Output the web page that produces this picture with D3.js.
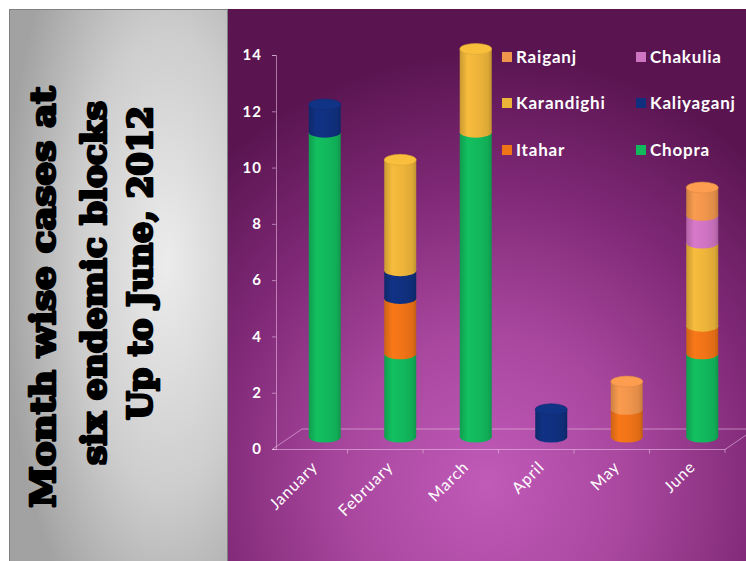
<!DOCTYPE html>
<html>
<head>
<meta charset="utf-8">
<script src="https://cdn.jsdelivr.net/npm/d3@7"></script>
<style>
  html, body { margin: 0; padding: 0; background: #ffffff; }
  svg { display: block; }
</style>
</head>
<body>
<svg id="chart" width="746" height="561"></svg>
<script>
// ---- data -------------------------------------------------------------
const months = ["January", "February", "March", "April", "May", "June"];

// stacking order, bottom to top
const blocks = ["Chopra", "Itahar", "Kaliyaganj", "Karandighi", "Chakulia", "Raiganj"];

const chopra     = [11, 3, 11, 0, 0, 3];
const itahar     = [0, 2, 0, 0, 1, 1];
const kaliyaganj = [1, 1, 0, 1, 0, 0];
const karandighi = [0, 4, 3, 0, 0, 3];
const chakulia   = [0, 0, 0, 0, 0, 1];
const raiganj    = [0, 0, 0, 0, 1, 1];

const yTicks = [0, 2, 4, 6, 8, 10, 12, 14];

// legend read row by row, two columns
const legendOrder = ["Raiganj", "Chakulia", "Karandighi", "Kaliyaganj", "Itahar", "Chopra"];

const titleLines = ["Month wise cases at", "six endemic blocks", "Up to June, 2012"];

// ---- build table for d3.stack ------------------------------------------
const seriesValues = {
  Chopra: chopra, Itahar: itahar, Kaliyaganj: kaliyaganj,
  Karandighi: karandighi, Chakulia: chakulia, Raiganj: raiganj
};
const table = months.map((m, i) => {
  const row = { month: m };
  blocks.forEach(b => { row[b] = seriesValues[b][i]; });
  return row;
});

const colors = {
  Chopra: "#12b85c",
  Itahar: "#ef7317",
  Kaliyaganj: "#10307f",
  Karandighi: "#edb43a",
  Chakulia: "#cf74c2",
  Raiganj: "#f0954c"
};

const svg = d3.select("#chart");
const defs = svg.append("defs");

// ---- panels -----------------------------------------------------------
const grayGrad = defs.append("radialGradient")
  .attr("id", "grayGrad")
  .attr("cx", 0.72).attr("cy", 0.45).attr("r", 0.75);
grayGrad.append("stop").attr("offset", "0%").attr("stop-color", "#ececec");
grayGrad.append("stop").attr("offset", "55%").attr("stop-color", "#cdcdcd");
grayGrad.append("stop").attr("offset", "100%").attr("stop-color", "#a2a2a2");

const purpleGrad = defs.append("radialGradient")
  .attr("id", "purpleGrad")
  .attr("cx", 0.5).attr("cy", 0.86).attr("r", 0.78);
purpleGrad.append("stop").attr("offset", "0%").attr("stop-color", "#c05bb8");
purpleGrad.append("stop").attr("offset", "35%").attr("stop-color", "#a9479f");
purpleGrad.append("stop").attr("offset", "70%").attr("stop-color", "#7e2875");
purpleGrad.append("stop").attr("offset", "100%").attr("stop-color", "#5a1551");

svg.append("rect")
  .attr("x", 9.5).attr("y", 9.5).attr("width", 218).attr("height", 560)
  .attr("fill", "url(#grayGrad)")
  .attr("stroke", "#808080").attr("stroke-width", 1);

svg.append("rect")
  .attr("x", 228).attr("y", 9).attr("width", 518).attr("height", 552)
  .attr("fill", "url(#purpleGrad)");

// ---- title (rotated) ----------------------------------------------------
const titlePos = [
  { x: 55, y: 297, len: 421 },
  { x: 106, y: 283, len: 364 },
  { x: 152, y: 263, len: 314 }
];
svg.append("g").selectAll("text")
  .data(titleLines)
  .join("text")
  .attr("transform", (d, i) => `translate(${titlePos[i].x},${titlePos[i].y}) rotate(-90)`)
  .attr("text-anchor", "middle")
  .attr("font-family", "'DejaVu Serif', serif")
  .attr("font-weight", "bold")
  .attr("font-size", 33)
  .attr("fill", "#000")
  .attr("stroke", "#000").attr("stroke-width", 2.6)
  .attr("stroke-linejoin", "round")
  .attr("textLength", (d, i) => titlePos[i].len)
  .attr("lengthAdjust", "spacingAndGlyphs")
  .text(d => d);

// ---- scales -------------------------------------------------------------
const floorLeft = 272, floorRight = 725, floorFront = 449;
const depthX = 30, depthY = -20;       // back edge of the floor
const midX = 15;                        // cylinders stand mid-depth

const x = d3.scaleBand().domain(months).range([floorLeft, floorRight]);
const yAxisScale = d3.scaleLinear().domain([0, 14]).range([floorFront, 55]);
const yBar = d3.scaleLinear().domain([0, 14]).range([437, 49]);

const stack = d3.stack().keys(blocks);
const layers = stack(table);

// ---- floor --------------------------------------------------------------
const floorStroke = "rgba(240,200,235,0.55)";
const floor = svg.append("g").attr("fill", "none").attr("stroke", floorStroke).attr("stroke-width", 1);
floor.append("path")
  .attr("d", `M${floorLeft},${floorFront + 0.5} L${floorRight},${floorFront + 0.5} L${floorRight + depthX},${floorFront + depthY} ` +
             `L${floorLeft + depthX},${floorFront + depthY} Z`);
// small ticks along the front edge at category boundaries
floor.selectAll("line.cat")
  .data(months.slice(1))
  .join("line")
  .attr("class", "cat")
  .attr("x1", d => x(d)).attr("x2", d => x(d))
  .attr("y1", floorFront + 0.5).attr("y2", floorFront + 4.5);
floor.append("line")
  .attr("x1", floorRight).attr("x2", floorRight)
  .attr("y1", floorFront).attr("y2", floorFront + 4);

// ---- y axis ---------------------------------------------------------------
const yAxis = svg.append("g")
  .attr("transform", `translate(${floorLeft + 4},0)`)
  .call(d3.axisLeft(yAxisScale).tickValues(yTicks).tickSize(4).tickPadding(10));
yAxis.select(".domain").attr("stroke", floorStroke);
yAxis.selectAll(".tick line").attr("stroke", floorStroke);
yAxis.selectAll(".tick text")
  .attr("fill", "#ffffff")
  .attr("font-family", "Lato, 'Open Sans', sans-serif")
  .attr("font-weight", "bold")
  .attr("font-size", 15)
  .attr("letter-spacing", 1);

// ---- cylinder shading ---------------------------------------------------
blocks.forEach(b => {
  const base = d3.color(colors[b]);
  const g = defs.append("linearGradient")
    .attr("id", "cyl-" + b).attr("x1", 0).attr("x2", 1).attr("y1", 0).attr("y2", 0);
  g.append("stop").attr("offset", "0%").attr("stop-color", base.darker(0.45));
  g.append("stop").attr("offset", "25%").attr("stop-color", base.brighter(0.12));
  g.append("stop").attr("offset", "60%").attr("stop-color", base);
  g.append("stop").attr("offset", "88%").attr("stop-color", base.darker(0.2));
  g.append("stop").attr("offset", "100%").attr("stop-color", base.darker(0.6));
});

const rx = 16, ry = 5.5;
const bars = svg.append("g").attr("class", "bars");

months.forEach((m, i) => {
  const cx = x(m) + x.bandwidth() / 2 + midX;
  const g = bars.append("g");
  let topKey = null, topVal = 0;
  layers.forEach(layer => {
    const [y0, y1] = layer[i];
    if (y1 - y0 <= 0) return;
    const key = layer.key;
    g.append("rect")
      .attr("x", cx - rx).attr("width", 2 * rx)
      .attr("y", yBar(y1)).attr("height", yBar(y0) - yBar(y1))
      .attr("fill", `url(#cyl-${key})`);
    g.append("ellipse")
      .attr("cx", cx).attr("cy", yBar(y0))
      .attr("rx", rx).attr("ry", ry)
      .attr("fill", `url(#cyl-${key})`);
    topKey = key; topVal = y1;
  });
  if (topKey) {
    g.append("ellipse")
      .attr("cx", cx).attr("cy", yBar(topVal))
      .attr("rx", rx).attr("ry", ry)
      .attr("fill", d3.color(colors[topKey]).brighter(0.15))
      .attr("stroke", d3.color(colors[topKey]).darker(0.25))
      .attr("stroke-width", 0.6);
  }
});

// ---- x labels -------------------------------------------------------------
svg.append("g").selectAll("text")
  .data(months)
  .join("text")
  .attr("transform", d => `translate(${x(d) + x.bandwidth() / 2 + 9},${floorFront + 19}) rotate(-45)`)
  .attr("text-anchor", "end")
  .attr("fill", "#ffffff")
  .attr("font-family", "Lato, 'Open Sans', sans-serif")
  .attr("font-size", 16)
  .attr("letter-spacing", 0.9)
  .text(d => d);

// ---- legend ---------------------------------------------------------------
const legendCols = [502, 636], legendRows = [57, 103, 150];
const legend = svg.append("g").selectAll("g")
  .data(legendOrder)
  .join("g")
  .attr("transform", (d, i) => `translate(${legendCols[i % 2]},${legendRows[Math.floor(i / 2)]})`);
legend.append("rect")
  .attr("x", 0).attr("y", -5).attr("width", 10).attr("height", 10)
  .attr("fill", d => colors[d]);
legend.append("text")
  .attr("x", 14).attr("y", 0).attr("dy", "0.36em")
  .attr("fill", "#ffffff")
  .attr("font-family", "Lato, 'Open Sans', sans-serif")
  .attr("font-weight", "bold")
  .attr("font-size", 17)
  .attr("letter-spacing", 0.8)
  .text(d => d);
</script>
</body>
</html>
